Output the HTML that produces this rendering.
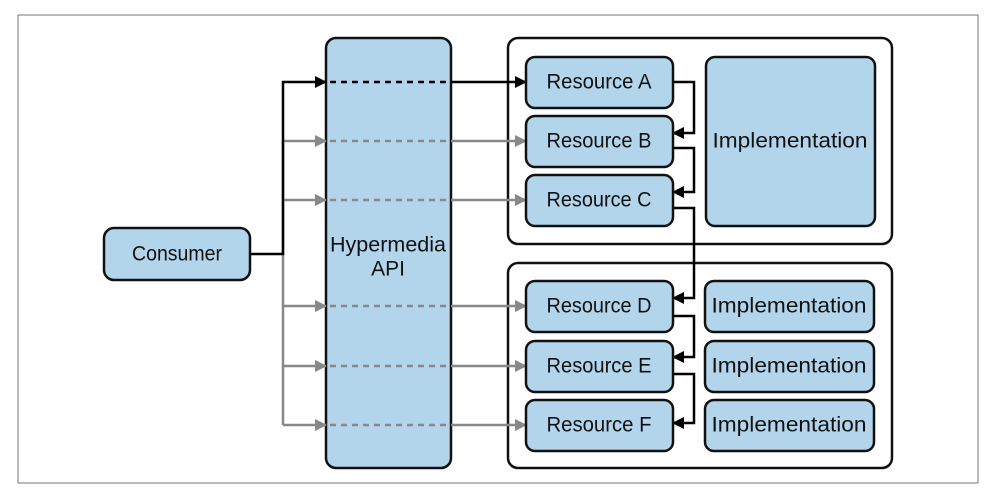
<!DOCTYPE html>
<html><head><meta charset="utf-8"><style>
html,body{margin:0;padding:0;background:#fff;}
svg text{font-family:"Liberation Sans Narrow","Liberation Sans",sans-serif;font-size:21px;fill:#111;text-anchor:middle;dominant-baseline:central;}
</style></head><body>
<svg width="996" height="498" viewBox="0 0 996 498" xmlns="http://www.w3.org/2000/svg">
<defs>
<marker id="ab" markerWidth="12" markerHeight="12" refX="11" refY="6" orient="auto" markerUnits="userSpaceOnUse"><path d="M0,0 L12,6 L0,12 z" fill="#000"/></marker>
<marker id="ag" markerWidth="12" markerHeight="12" refX="11" refY="6" orient="auto" markerUnits="userSpaceOnUse"><path d="M0,0 L12,6 L0,12 z" fill="#888"/></marker>
</defs>
<rect x="18" y="15" width="960" height="468" fill="#fff" stroke="#777" stroke-width="1"/>
<rect x="508" y="38" width="384" height="206" rx="10" fill="#fff" stroke="#111" stroke-width="2.5"/>
<rect x="508" y="263" width="384" height="205" rx="10" fill="#fff" stroke="#111" stroke-width="2.5"/>
<rect x="326" y="38" width="125" height="430" rx="10" fill="#b3d5ec" stroke="#111" stroke-width="2.5"/>
<text x="388" y="245" textLength="116" lengthAdjust="spacingAndGlyphs">Hypermedia</text>
<text x="388" y="269">API</text>
<rect x="104" y="228" width="146" height="52" rx="10" fill="#b3d5ec" stroke="#111" stroke-width="2.5"/>
<text x="177" y="254" textLength="90" lengthAdjust="spacingAndGlyphs">Consumer</text>
<g stroke="#888" stroke-width="2.5" fill="none">
<path d="M283 141 V425"/>
</g>
<g stroke="#888" stroke-width="2.5">
<line x1="283" y1="141" x2="326" y2="141" marker-end="url(#ag)"/>
<line x1="283" y1="200" x2="326" y2="200" marker-end="url(#ag)"/>
<line x1="283" y1="306" x2="326" y2="306" marker-end="url(#ag)"/>
<line x1="283" y1="366" x2="326" y2="366" marker-end="url(#ag)"/>
<line x1="283" y1="425" x2="326" y2="425" marker-end="url(#ag)"/>
<g stroke-dasharray="6,5">
<line x1="330" y1="141" x2="451" y2="141"/><line x1="330" y1="200" x2="451" y2="200"/>
<line x1="330" y1="306" x2="451" y2="306"/><line x1="330" y1="366" x2="451" y2="366"/>
<line x1="330" y1="425" x2="451" y2="425"/>
</g>
<line x1="451" y1="141" x2="526" y2="141" marker-end="url(#ag)"/>
<line x1="451" y1="200" x2="526" y2="200" marker-end="url(#ag)"/>
<line x1="451" y1="306" x2="526" y2="306" marker-end="url(#ag)"/>
<line x1="451" y1="366" x2="526" y2="366" marker-end="url(#ag)"/>
<line x1="451" y1="425" x2="526" y2="425" marker-end="url(#ag)"/>
</g>
<g stroke="#000" stroke-width="2.5" fill="none">
<path d="M250 254 H283 V82 H326" marker-end="url(#ab)"/>
<line x1="330" y1="82" x2="451" y2="82" stroke-dasharray="6,5"/>
<line x1="451" y1="82" x2="526" y2="82" marker-end="url(#ab)"/>
<path d="M673 82 H694 V133 H673" marker-end="url(#ab)"/>
<path d="M673 148 H694 V192 H673" marker-end="url(#ab)"/>
<path d="M673 208 H694 V298 H673" marker-end="url(#ab)"/>
<path d="M673 316 H694 V357 H673" marker-end="url(#ab)"/>
<path d="M673 374 H694 V423 H673" marker-end="url(#ab)"/>
</g>
<g fill="#b3d5ec" stroke="#111" stroke-width="2.5">
<rect x="526" y="57" width="147" height="51" rx="9"/>
<rect x="526" y="116" width="147" height="51" rx="9"/>
<rect x="526" y="175" width="147" height="51" rx="9"/>
<rect x="526" y="281" width="147" height="51" rx="9"/>
<rect x="526" y="341" width="147" height="51" rx="9"/>
<rect x="526" y="400" width="147" height="51" rx="9"/>
<rect x="706" y="57" width="169" height="169" rx="9"/>
<rect x="705" y="281" width="169" height="51" rx="9"/>
<rect x="705" y="341" width="169" height="51" rx="9"/>
<rect x="705" y="400" width="169" height="51" rx="9"/>
</g>
<g>
<text x="599" y="82" textLength="105" lengthAdjust="spacingAndGlyphs">Resource A</text>
<text x="599" y="141" textLength="105" lengthAdjust="spacingAndGlyphs">Resource B</text>
<text x="599" y="200" textLength="105" lengthAdjust="spacingAndGlyphs">Resource C</text>
<text x="599" y="306" textLength="105" lengthAdjust="spacingAndGlyphs">Resource D</text>
<text x="599" y="366" textLength="105" lengthAdjust="spacingAndGlyphs">Resource E</text>
<text x="599" y="425" textLength="105" lengthAdjust="spacingAndGlyphs">Resource F</text>
<text x="790" y="141" textLength="155" lengthAdjust="spacingAndGlyphs">Implementation</text>
<text x="789" y="306" textLength="155" lengthAdjust="spacingAndGlyphs">Implementation</text>
<text x="789" y="366" textLength="155" lengthAdjust="spacingAndGlyphs">Implementation</text>
<text x="789" y="425" textLength="155" lengthAdjust="spacingAndGlyphs">Implementation</text>
</g>
</svg>
</body></html>
